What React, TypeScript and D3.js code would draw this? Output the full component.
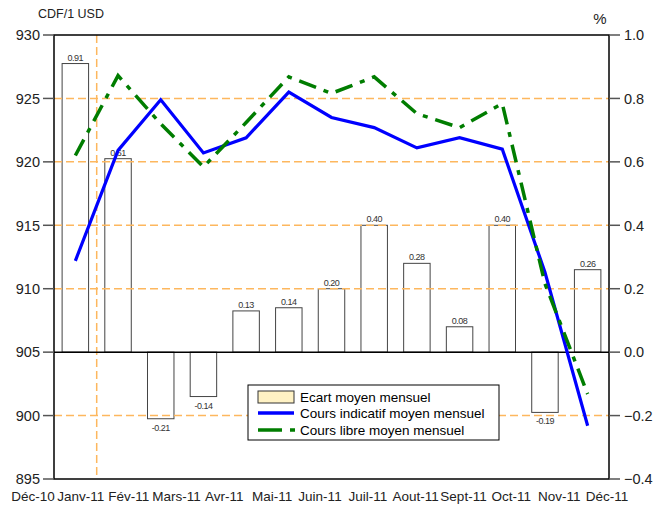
import React from 'react';
import * as d3 from 'd3';

// months shown on the x axis
const months = ['Déc-10', 'Janv-11', 'Fév-11', 'Mars-11', 'Avr-11', 'Mai-11', 'Juin-11', 'Juil-11', 'Aout-11', 'Sept-11', 'Oct-11', 'Nov-11', 'Déc-11'];
// Ecart moyen mensuel (%), right axis
const ecart = [0.91, 0.61, -0.21, -0.14, 0.13, 0.14, 0.20, 0.40, 0.28, 0.08, 0.40, -0.19, 0.26];
const ecartLabels = ['0.91', '0.61', '-0.21', '-0.14', '0.13', '0.14', '0.20', '0.40', '0.28', '0.08', '0.40', '-0.19', '0.26'];
// Cours indicatif moyen mensuel (CDF/1 USD), left axis
const coursIndicatif = [912.2, 920.9, 924.9, 920.7, 921.9, 925.5, 923.5, 922.7, 921.1, 921.9, 921.0, 911.3, 899.2];
// Cours libre moyen mensuel (CDF/1 USD), left axis
const coursLibre = [920.5, 926.8, 923.0, 919.6, 923.1, 926.7, 925.4, 926.7, 923.8, 922.7, 924.6, 910.4, 901.7];
// axis ticks
const leftTicks = [895, 900, 905, 910, 915, 920, 925, 930];
const rightTicks = [-0.4, -0.2, 0.0, 0.2, 0.4, 0.6, 0.8, 1.0];

const W = 665;
const H = 512;
const margin = { top: 35, right: 56, bottom: 33, left: 54 };
const font = 'Arial, "Liberation Sans", sans-serif';
const orange = '#FDB75E';
const blue = '#0000FF';
const green = '#007D00';
const greenDash = '18,8,5,8';

export default function App() {
  const x0 = margin.left;
  const x1 = W - margin.right;
  const y0 = margin.top;
  const y1 = H - margin.bottom;

  const x = d3.scaleBand<string>().domain(months).range([x0, x1]).paddingInner(0.38).paddingOuter(0.19);
  const step = x.step();
  const cx = (m: string) => (x(m) as number) + x.bandwidth() / 2;
  // month labels sit on their own, wider spacing
  const xLabel = d3.scalePoint<string>().domain(months).range([33, 607]);

  const yL = d3.scaleLinear().domain([895, 930]).range([y1, y0]);
  const yR = d3.scaleLinear().domain([-0.4, 1.0]).range([y1, y0]);

  const line = d3.line<number>()
    .x((_, i) => cx(months[i]))
    .y(d => yL(d));

  const gridVals = leftTicks.filter(v => v !== 895 && v !== 930 && v !== 905);
  const lx = 248, ly = 385;

  return (
    <svg width={W} height={H} style={{ position: 'absolute', left: 0, top: 0, background: '#fff' }} fontFamily={font}>
      {/* bars */}
      {ecart.map((v, i) => {
        const top = yR(Math.max(0, v));
        const bot = yR(Math.min(0, v));
        return (
          <rect key={'b' + i} x={x(months[i])} y={top} width={x.bandwidth()} height={bot - top}
            fill="#fff" stroke="#444" strokeWidth={1} />
        );
      })}

      {/* grid */}
      {gridVals.map(v => (
        <line key={'g' + v} x1={x0} x2={x1} y1={yL(v)} y2={yL(v)} stroke={orange} strokeWidth={1.5} strokeDasharray="8,4" />
      ))}
      <line x1={x0 + step} x2={x0 + step} y1={y0} y2={y1} stroke={orange} strokeWidth={1.5} strokeDasharray="8,4" />

      {/* zero line */}
      <line x1={x0} x2={x1} y1={yR(0)} y2={yR(0)} stroke="#000" strokeWidth={1.5} />

      {/* bar labels */}
      {ecart.map((v, i) => (
        <text key={'l' + i} x={cx(months[i])} y={v >= 0 ? yR(v) - 3 : yR(v) + 12}
          textAnchor="middle" fontSize={9} fill="#333" letterSpacing={-0.5}>{ecartLabels[i]}</text>
      ))}

      {/* lines */}
      <path d={line(coursIndicatif) || ''} fill="none" stroke={blue} strokeWidth={3.2} strokeLinejoin="miter" />
      <path d={line(coursLibre) || ''} fill="none" stroke={green} strokeWidth={3.5} strokeDasharray={greenDash} />

      {/* frame */}
      <rect x={x0} y={y0} width={x1 - x0} height={y1 - y0} fill="none" stroke="#000" strokeWidth={1.5} />

      {/* left axis */}
      {leftTicks.map(v => (
        <g key={'yl' + v}>
          <line x1={x0 - 11} x2={x0} y1={yL(v)} y2={yL(v)} stroke="#555" strokeWidth={1.5} />
          <text x={x0 - 14} y={yL(v)} dy="0.36em" textAnchor="end" fontSize={14.5} fill="#222">{v}</text>
        </g>
      ))}
      <text x={38} y={18} fontSize={12.5} fill="#222">CDF/1 USD</text>

      {/* right axis */}
      {rightTicks.map(v => (
        <g key={'yr' + v}>
          <line x1={x1} x2={x1 + 11} y1={yR(v)} y2={yR(v)} stroke="#555" strokeWidth={1.5} />
          <text x={x1 + 15} y={yR(v)} dy="0.36em" textAnchor="start" fontSize={14.5} fill="#222">{d3.format('.1f')(v)}</text>
        </g>
      ))}
      <text x={600} y={24} textAnchor="middle" fontSize={15} fill="#222">%</text>

      {/* x labels */}
      {months.map(m => (
        <text key={'x' + m} x={xLabel(m)} y={y1 + 22} textAnchor="middle" fontSize={13.5} fill="#222">{m}</text>
      ))}

      {/* legend */}
      <rect x={lx} y={ly} width={251} height={55} fill="#fff" stroke="#000" strokeWidth={1} />
      <rect x={lx + 10} y={ly + 6} width={36} height={12} fill="#FFF2C4" stroke="#333" strokeWidth={1} />
      <text x={lx + 52} y={ly + 17} fontSize={13.5} fill="#000">Ecart moyen mensuel</text>
      <line x1={lx + 10} x2={lx + 46} y1={ly + 28} y2={ly + 28} stroke={blue} strokeWidth={3.5} />
      <text x={lx + 52} y={ly + 33} fontSize={13.5} fill="#000">Cours indicatif moyen mensuel</text>
      <line x1={lx + 10} x2={lx + 47} y1={ly + 45} y2={ly + 45} stroke={green} strokeWidth={3.5} strokeDasharray="24,8,5,8" />
      <text x={lx + 52} y={ly + 50} fontSize={13.5} fill="#000">Cours libre moyen mensuel</text>
    </svg>
  );
}
